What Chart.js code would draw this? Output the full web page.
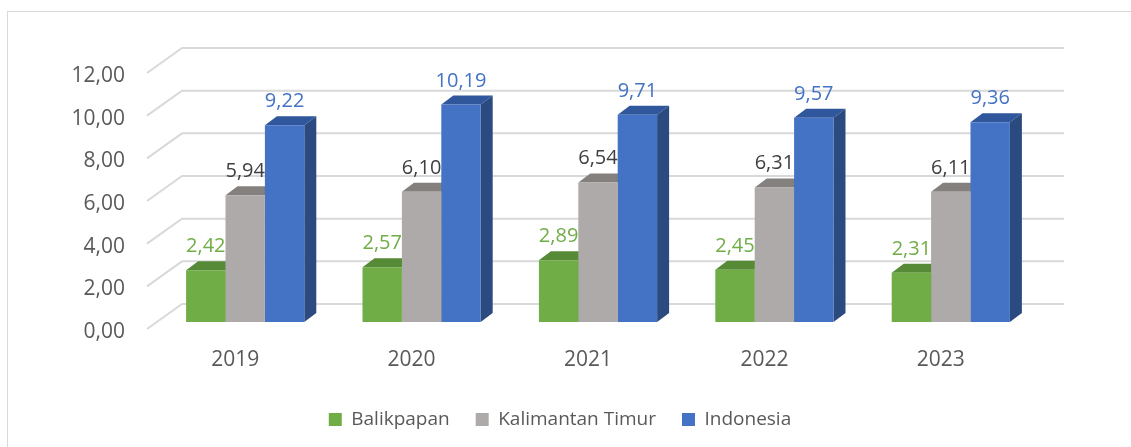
<!DOCTYPE html>
<html>
<head>
<meta charset="utf-8">
<script src="https://cdn.jsdelivr.net/npm/chart.js@4.4.0/dist/chart.umd.min.js"></script>
<style>
  body { margin: 0; background: #fff; overflow: hidden; }
  #wrap { position: relative; width: 1131px; height: 447px; }
  #frame { position: absolute; left: 7px; top: 11px; width: 1200px; height: 500px; border: 1px solid #d9d9d9; }
  #chart { position: absolute; left: 0; top: 0; }
</style>
</head>
<body>
<div id="wrap">
  <div id="frame"></div>
  <canvas id="chart" width="1131" height="447"></canvas>
</div>
<script>
const years = ['2019', '2020', '2021', '2022', '2023'];
const balikpapan = [2.42, 2.57, 2.89, 2.45, 2.31];
const kaltim = [5.94, 6.10, 6.54, 6.31, 6.11];
const indonesia = [9.22, 10.19, 9.71, 9.57, 9.36];
const seriesNames = ['Balikpapan', 'Kalimantan Timur', 'Indonesia'];

const frontColors = ['#70ad47', '#aeaaaa', '#4472c4'];
const topColors = ['#568a36', '#84807e', '#30579c'];
const sideColors = ['#4b7a2f', '#767270', '#2b4a80'];
const labelColors = ['#70ad47', '#404040', '#4472c4'];

const font = '"Open Sans", "Noto Sans", sans-serif';

// décalages de la pseudo 3D
const bar3d = { fx: 10, fy: -7, dx: 12, dy: -9 };
const wall = { dx: 35, dy: -25 };

function fmt(v) {
  return v.toFixed(2).replace('.', ',');
}

// grille "mur du fond" + faces haut/côté des barres
const fake3d = {
  id: 'fake3d',
  beforeDatasetsDraw(chart) {
    const { ctx, chartArea, scales: { y } } = chart;
    ctx.save();
    ctx.strokeStyle = '#d9d9d9';
    ctx.lineWidth = 2;
    y.ticks.forEach(t => {
      const yy = y.getPixelForValue(t.value);
      ctx.beginPath();
      ctx.moveTo(chartArea.left, yy);
      ctx.lineTo(chartArea.left + wall.dx, yy + wall.dy);
      ctx.lineTo(chartArea.right + wall.dx, yy + wall.dy);
      ctx.stroke();
    });

    chart.data.datasets.forEach((ds, i) => {
      chart.getDatasetMeta(i).data.forEach(bar => {
        const { x, y: top, base, width } = bar.getProps(['x', 'y', 'base', 'width'], true);
        const l = x - width / 2 + bar3d.fx;
        const r = x + width / 2 + bar3d.fx;
        const t = top + bar3d.fy;
        const b = base + bar3d.fy;
        ctx.fillStyle = topColors[i];
        ctx.beginPath();
        ctx.moveTo(l, t);
        ctx.lineTo(r, t);
        ctx.lineTo(r + bar3d.dx, t + bar3d.dy);
        ctx.lineTo(l + bar3d.dx, t + bar3d.dy);
        ctx.closePath();
        ctx.fill();
        ctx.fillStyle = sideColors[i];
        ctx.beginPath();
        ctx.moveTo(r, t);
        ctx.lineTo(r + bar3d.dx, t + bar3d.dy);
        ctx.lineTo(r + bar3d.dx, b + bar3d.dy);
        ctx.lineTo(r, b);
        ctx.closePath();
        ctx.fill();
      });
    });
    ctx.restore();

    // les faces avant sont dessinées par Chart.js, décalées
    ctx.save();
    ctx.translate(bar3d.fx, bar3d.fy);
  },
  afterDatasetsDraw(chart) {
    const { ctx } = chart;
    ctx.restore();

    ctx.save();
    ctx.font = '20px ' + font;
    ctx.textAlign = 'center';
    ctx.textBaseline = 'alphabetic';
    chart.data.datasets.forEach((ds, i) => {
      ctx.fillStyle = labelColors[i];
      chart.getDatasetMeta(i).data.forEach((bar, j) => {
        const { x, y } = bar.getProps(['x', 'y'], true);
        ctx.fillText(fmt(ds.data[j]), x + bar3d.fx, y + bar3d.fy - 18);
      });
    });
    ctx.restore();
  }
};

const datasets = [balikpapan, kaltim, indonesia].map((values, i) => ({
  label: seriesNames[i],
  data: values,
  backgroundColor: frontColors[i],
  borderWidth: 0,
  categoryPercentage: 0.67,
  barPercentage: 1
}));

new Chart(document.getElementById('chart'), {
  type: 'bar',
  data: { labels: years, datasets: datasets },
  plugins: [fake3d],
  options: {
    responsive: false,
    devicePixelRatio: 1,
    animation: false,
    layout: { padding: { left: 7, right: 18, top: 73, bottom: 8 } },
    scales: {
      y: {
        min: 0,
        max: 12,
        ticks: {
          stepSize: 2,
          padding: 22,
          labelOffset: 3,
          color: '#595959',
          font: { family: font, size: 21 },
          callback: v => fmt(v)
        },
        grid: { display: false, drawTicks: false },
        border: { display: false },
        afterFit(scale) { scale.width = 140; }
      },
      // axe vide à droite pour laisser la place au mur du fond
      yRight: {
        position: 'right',
        ticks: { display: false },
        grid: { display: false, drawTicks: false },
        border: { display: false },
        afterFit(scale) { scale.width = 84; }
      },
      x: {
        ticks: {
          padding: 18,
          color: '#595959',
          font: { family: font, size: 21 }
        },
        grid: { display: false, drawTicks: false },
        border: { display: false },
        afterFit(scale) { scale.height = 55; }
      }
    },
    plugins: {
      legend: {
        position: 'bottom',
        labels: {
          boxWidth: 13,
          boxHeight: 13,
          padding: 26,
          color: '#595959',
          font: { family: font, size: 19 }
        }
      },
      tooltip: { enabled: false }
    }
  }
});
</script>
</body>
</html>
